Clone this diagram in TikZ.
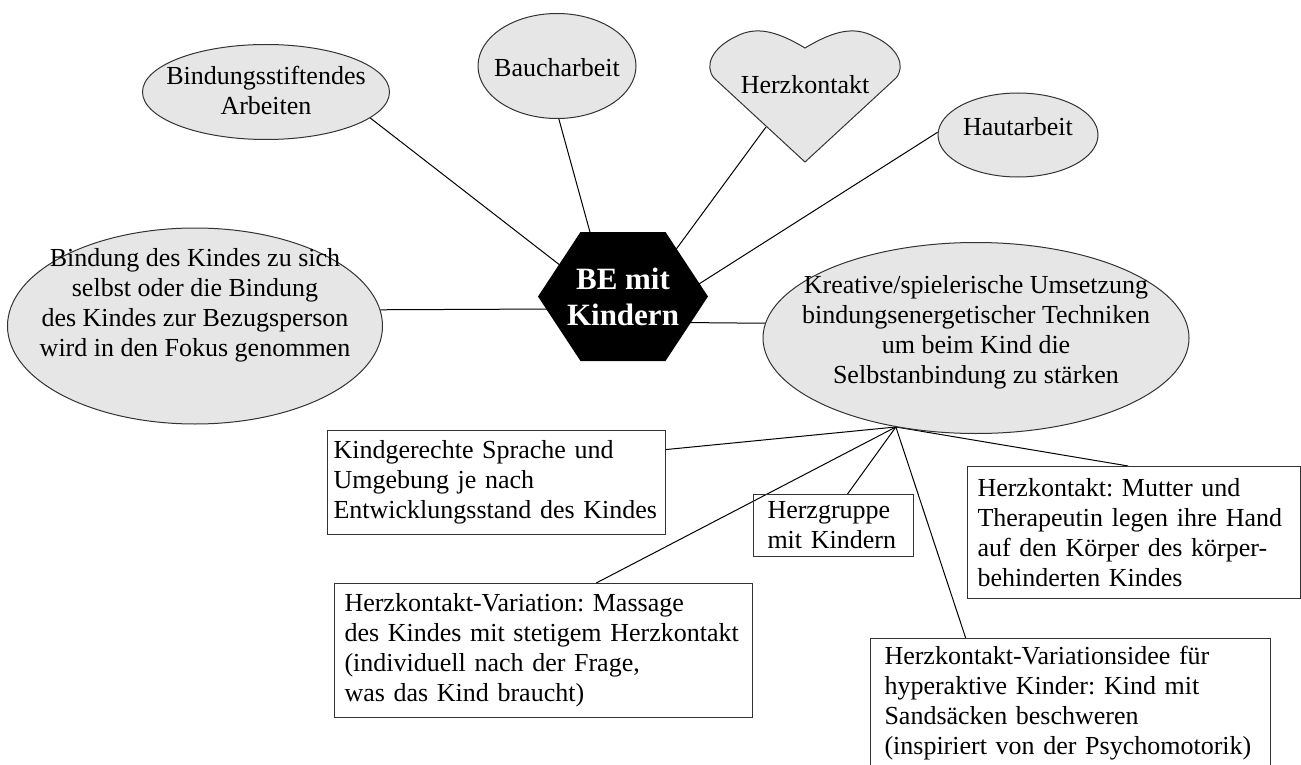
\documentclass[tikz,border=0pt]{standalone}
\usepackage{fontspec}
\setmainfont{Liberation Serif}
\frenchspacing
\usetikzlibrary{calc,backgrounds,shapes.geometric}

\definecolor{bubblegray}{HTML}{E6E6E6}
\definecolor{edgegray}{HTML}{333333}

\tikzset{
  bubble/.style={ellipse, draw=edgegray, fill=bubblegray, line width=1pt, inner sep=0pt},
  bubtext/.style={align=center, inner sep=0pt},
  notebox/.style={rectangle, draw=edgegray, line width=1pt, anchor=north west,
    align=left, inner ysep=0pt, inner xsep=10pt},
  link/.style={draw=black, line width=1pt},
}

\begin{document}
\begin{tikzpicture}[x=1pt, y=1pt, font=\fontsize{26}{30}\selectfont]
  \useasboundingbox (0,0) rectangle (1301,-765);

  % Centre text, the black hexagon itself is filled on the background layer
  \node[text=white, align=center, font=\fontsize{31}{36}\selectfont\bfseries,
    minimum width=170, minimum height=129, inner sep=0pt] (be) at (623,-296.5) {BE mit\\Kindern};

  % Ellipses round the centre
  \node[bubble, minimum width=247, minimum height=95,
    label={[bubtext, yshift=2]center:Bindungsstiftendes\\Arbeiten}] (stift) at (266,-92) {};
  \node[bubble, minimum width=158, minimum height=105,
    label={[bubtext, yshift=-2]center:Baucharbeit}] (bauch) at (557,-66) {};
  \node[bubble, minimum width=160, minimum height=84,
    label={[bubtext, yshift=8]center:Hautarbeit}] (haut) at (1018,-135) {};
  \node[bubble, minimum width=375, minimum height=196,
    label={[bubtext, yshift=21]center:Bindung des Kindes zu sich\\selbst oder die Bindung\\des Kindes zur Bezugsperson\\wird in den Fokus genommen}] (bind) at (195,-326) {};
  \node[bubble, minimum width=426, minimum height=191,
    label={[bubtext, yshift=6]center:Kreative/spielerische Umsetzung\\bindungsenergetischer Techniken\\um beim Kind die\\Selbstanbindung zu st\"arken}] (krea) at (976,-338) {};

  % Heart
  \filldraw[draw=edgegray, fill=bubblegray, line width=1pt]
    (805,-48) .. controls (775,-30) and (755,-26) .. (735,-37)
    .. controls (712,-48) and (704,-66) .. (714,-78) -- (805,-162) -- (896,-78)
    .. controls (906,-66) and (898,-48) .. (875,-37)
    .. controls (855,-26) and (835,-30) .. (805,-48) -- cycle;
  \node (heart) at (805,-85) {Herzkontakt};
  \coordinate (heartlink) at (766,-127);

  % Boxes below
  \node[notebox, inner xsep=6pt, text width=326, minimum height=104] (kind) at (327,-430)
    {Kindgerechte Sprache und\\Umgebung je nach\\Entwicklungsstand des Kindes};
  \node[notebox, inner xsep=14pt, text width=132, minimum height=62] (grp) at (753,-494)
    {Herzgruppe\\mit Kindern};
  \node[notebox, text width=398, minimum height=134] (mass) at (334,-583)
    {Herzkontakt-Variation: Massage\\des Kindes mit stetigem Herzkontakt\\(individuell nach der Frage,\\was das Kind braucht)};
  \node[notebox, text width=313, minimum height=132] (mut) at (967,-466)
    {Herzkontakt: Mutter und\\Therapeutin legen ihre Hand\\auf den K\"orper des k\"orper-\\behinderten Kindes};
  \node[notebox, inner xsep=14pt, text width=372, minimum height=130] (psy) at (870,-638)
    {Herzkontakt-Variationsidee f\"ur\\hyperaktive Kinder: Kind mit\\Sands\"acken beschweren\\(inspiriert von der Psychomotorik)};

  \begin{scope}[on background layer]
    % Lines to the centre
    \draw[link] (stift.-14) -- ($(be)+(-60,29)$);
    \draw[link] (bauch.-88) -- ($(be)+(-31,57)$);
    \draw[link] (heartlink) -- ($(be)+(50,43)$);
    \draw[link] (haut.178) -- ($(be)+(72,10)$);
    \draw[link] (bind.5) -- ($(be)+(-68,-12.5)$);
    \draw[link] ($(be)+(58,-26)$) -- (krea.176);
    % Lines to the boxes
    \foreach \tgt/\ang in {kind/11, grp/66, mass/52, mut/95, psy/148}
      \draw[link] (krea.228) -- (\tgt.\ang);
    % Hexagon over the line ends
    \fill[black, shift={(be)}] (-85,0) -- (-42.5,64.5) -- (42.5,64.5) -- (85,0)
      -- (42.5,-64.5) -- (-42.5,-64.5) -- cycle;
  \end{scope}
\end{tikzpicture}
\end{document}
